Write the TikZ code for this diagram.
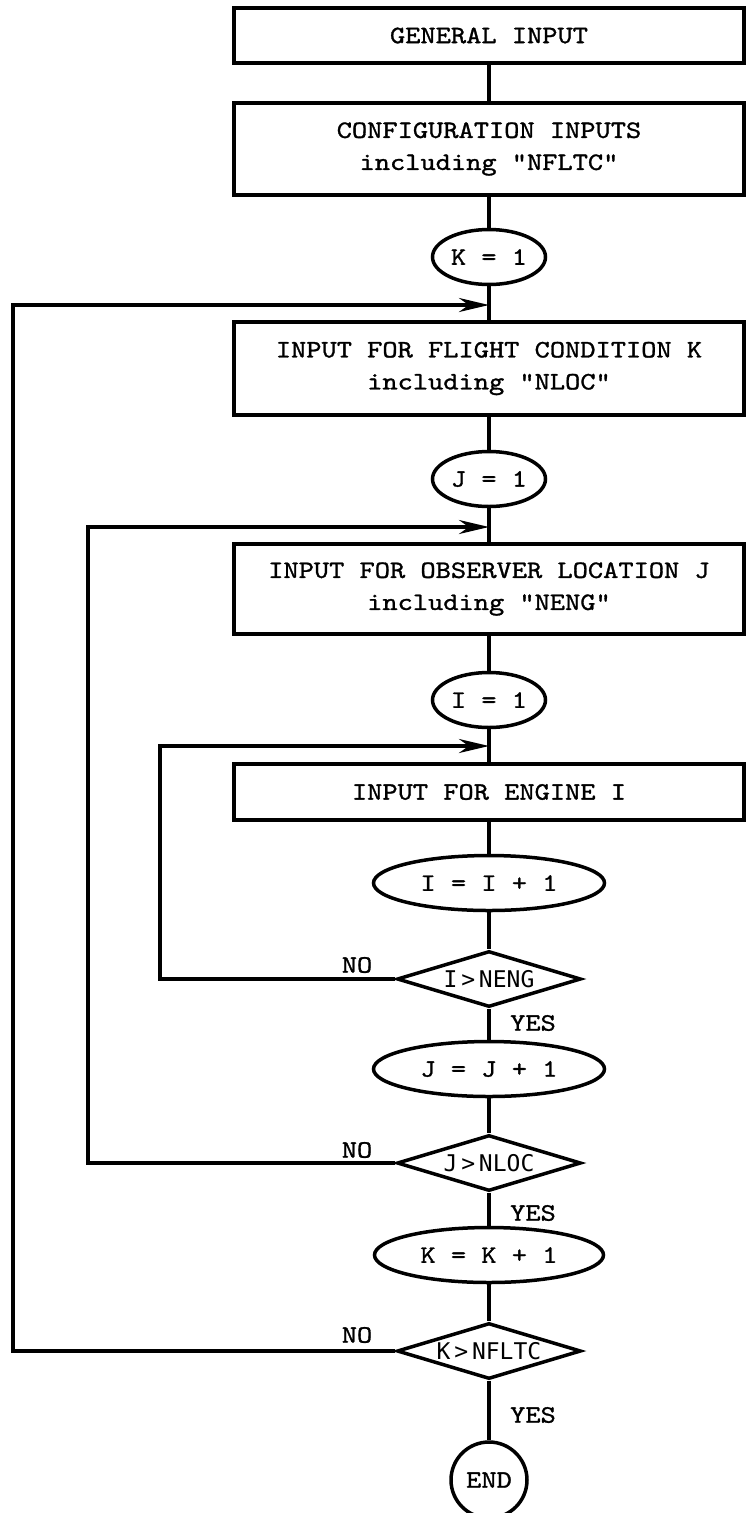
\documentclass[tikz,border=0pt]{standalone}
\usepackage{fontspec}
\setmonofont{lmmono10-regular.otf}[FakeStretch=1.16, FakeBold=1.2]
\newfontfamily\condfont{DejaVu Sans Mono}
\usepackage{tikz}
\usetikzlibrary{shapes.geometric, arrows.meta, positioning, calc}
\tikzset{
  block/.style={rectangle, draw, minimum width=510pt, inner sep=0pt, align=center,
    font=\ttfamily\fontsize{25}{32}\selectfont, line width=3.5pt},
  oval/.style={ellipse, draw, inner sep=0pt, minimum height=55pt,
    font=\ttfamily\fontsize{25}{32}\selectfont, line width=3.5pt},
  decision/.style={diamond, draw, shape aspect=3.3, inner sep=0pt, minimum width=184pt,
    minimum height=56pt, font=\condfont\fontsize{23}{24}\selectfont, line width=3.5pt},
  tag/.style={inner sep=0pt, font=\ttfamily\fontsize{25}{32}\selectfont},
  arrow/.style={-{Stealth[length=30pt, width=14pt]}, line width=3.5pt},
  line/.style={line width=3.5pt}
}

\begin{document}
\begin{tikzpicture}[x=1pt, y=-1pt]
  \useasboundingbox (0,0) rectangle (747,1513);
  % input blocks
  \node[block, minimum height=55pt] (gen) at (489,35.5) {GENERAL INPUT};
  \node[block, minimum height=92pt] (cfg) at (489,149) {CONFIGURATION INPUTS\\including "NFLTC"};
  \node[oval, minimum width=113pt] (k1) at (489,257) {K = 1};
  \node[block, minimum height=93pt] (flt) at (489,368.5) {INPUT FOR FLIGHT CONDITION K\\including "NLOC"};
  \node[oval, minimum width=113pt] (j1) at (489,479) {J = 1};
  \node[block, minimum height=90pt] (obs) at (489,589) {INPUT FOR OBSERVER LOCATION J\\including "NENG"};
  \node[oval, minimum width=113pt] (i1) at (489,700) {I = 1};
  \node[block, minimum height=56pt] (eng) at (489,792) {INPUT FOR ENGINE I};
  % counters and tests
  \node[oval, minimum width=231pt] (iinc) at (489,883) {I = I + 1};
  \node[decision] (itest) at (489,979) {I\,>\,NENG};
  \node[oval, minimum width=231pt] (jinc) at (489,1069) {J = J + 1};
  \node[decision] (jtest) at (489,1163) {J\,>\,NLOC};
  \node[oval, minimum width=229pt] (kinc) at (489,1255) {K = K + 1};
  \node[decision] (ktest) at (489,1351) {K\,>\,NFLTC};
  \node[circle, draw, line width=3.5pt, minimum size=76pt, inner sep=0pt,
    font=\ttfamily\fontsize{25}{32}\selectfont] (end) at (489,1480) {END};
  % labels
  \node[tag] (noI) at (357,965) {NO};
  \node[tag] (noJ) at (357,1150) {NO};
  \node[tag] (noK) at (357,1335) {NO};
  \node[tag] (yesI) at (533,1023) {YES};
  \node[tag] (yesJ) at (533,1213) {YES};
  \node[tag] (yesK) at (533,1415) {YES};
  % main line
  \draw[line] (gen) -- (cfg);
  \draw[line] (cfg) -- (k1);
  \draw[line] (k1) -- (flt);
  \draw[line] (flt) -- (j1);
  \draw[line] (j1) -- (obs);
  \draw[line] (obs) -- (i1);
  \draw[line] (i1) -- (eng);
  \draw[line] (eng) -- (iinc);
  \draw[line] (iinc) -- (itest);
  \draw[line] (itest) -- (jinc);
  \draw[line] (jinc) -- (jtest);
  \draw[line] (jtest) -- (kinc);
  \draw[line] (kinc) -- (ktest);
  \draw[line] (ktest) -- (end);
  % loops back
  \coordinate (backI) at (489,746);
  \coordinate (backJ) at (489,527);
  \coordinate (backK) at (489,305);
  \coordinate (cornerI) at (160,746);
  \coordinate (cornerJ) at (88,527);
  \coordinate (cornerK) at (13,305);
  \draw[arrow] (itest.west) -| (cornerI) -- (backI);
  \draw[arrow] (jtest.west) -| (cornerJ) -- (backJ);
  \draw[arrow] (ktest.west) -| (cornerK) -- (backK);
\end{tikzpicture}
\end{document}
